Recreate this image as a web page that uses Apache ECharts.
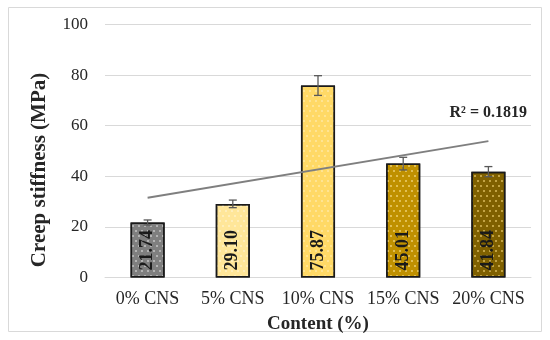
<!DOCTYPE html>
<html><head><meta charset="utf-8">
<script src="https://cdn.jsdelivr.net/npm/echarts@6/dist/echarts.min.js"></script>
<style>html,body{margin:0;padding:0;background:#fff}#c{width:550px;height:340px}</style>
</head><body><div id="c"></div>
<script>
var categories = ['0% CNS', '5% CNS', '10% CNS', '15% CNS', '20% CNS'];
var values = [21.74, 29.10, 75.87, 45.01, 41.84];
var errors = [1.0, 1.5, 3.9, 2.5, 2.0];
var colors = ['#7f7f7f', '#ffe699', '#ffd966', '#bf9000', '#7f6000'];
var dotColors = ['rgba(255,255,255,0.55)', 'rgba(255,255,255,0.45)', 'rgba(255,255,255,0.4)', 'rgba(255,235,160,0.7)', 'rgba(255,225,130,0.7)'];
var trend = [31.5, null, null, null, 53.9];
var yTicks = [0, 20, 40, 60, 80, 100];
var r2Text = 'R² = 0.1819';
var F = '"Liberation Serif","Times New Roman",serif';

var chart = echarts.init(document.getElementById('c'), null, {renderer: 'canvas'});
var barData = values.map(function (v, i) {
  return {
    value: v,
    itemStyle: {
      color: colors[i],
      decal: {symbol: 'circle', symbolSize: 1, dashArrayX: [[1.6, 3.4], [0, 2.5, 1.6, 0.9]], dashArrayY: [1.6, 2.6], color: dotColors[i], rotation: 0}
    }
  };
});
chart.setOption({
  animation: false,
  aria: {enabled: false},
  grid: {left: 105, right: 19, top: 24.5, bottom: 62.5},
  xAxis: {
    type: 'category', data: categories,
    axisLine: {lineStyle: {color: '#d9d9d9', width: 1}},
    axisTick: {show: false},
    axisLabel: {fontFamily: F, fontSize: 18, color: '#262626', margin: 13, interval: 0},
    name: 'Content (%)', nameLocation: 'middle', nameGap: 37,
    nameTextStyle: {fontFamily: F, fontSize: 19, fontWeight: 'bold', color: '#262626'}
  },
  yAxis: {
    type: 'value', min: yTicks[0], max: yTicks[yTicks.length - 1], interval: 20,
    axisLine: {show: false}, axisTick: {show: false},
    splitLine: {lineStyle: {color: '#d9d9d9', width: 1}},
    axisLabel: {fontFamily: F, fontSize: 17, color: '#262626', margin: 17}
  },
  graphic: [
    {type: 'rect', shape: {x: 8.5, y: 7.5, width: 533, height: 324}, style: {fill: null, stroke: '#d9d9d9', lineWidth: 1}, z: -1},
    {type: 'text', x: 40, y: 170, rotation: Math.PI / 2,
      style: {text: 'Creep stiffness (MPa)', font: 'bold 21px ' + F, fill: '#262626', align: 'center', verticalAlign: 'middle'}},
    {type: 'text', x: 527, y: 113,
      style: {text: r2Text, font: 'bold 16px ' + F, fill: '#262626', align: 'right', verticalAlign: 'middle'}}
  ],
  series: [
    {
      type: 'bar', data: barData, barWidth: '40%',
      itemStyle: {borderColor: '#1a1a1a', borderWidth: 1.5},
      label: {
        show: true, position: 'insideBottom', distance: 7, rotate: 90, align: 'left', verticalAlign: 'middle',
        fontFamily: F, fontSize: 18, fontWeight: 'bold', color: '#1a1a1a',
        formatter: function (p) { return p.value.toFixed(2); }
      },
      z: 2
    },
    {
      type: 'custom', z: 5,
      data: values.map(function (v, i) { return [i, v, errors[i]]; }),
      renderItem: function (params, api) {
        var i = api.value(0), v = api.value(1), e = api.value(2);
        var top = api.coord([i, v + e]), bot = api.coord([i, v - e]);
        var hw = 4;
        var st = {stroke: '#595959', lineWidth: 1.3};
        return {type: 'group', children: [
          {type: 'line', shape: {x1: top[0], y1: top[1], x2: bot[0], y2: bot[1]}, style: st},
          {type: 'line', shape: {x1: top[0] - hw, y1: top[1], x2: top[0] + hw, y2: top[1]}, style: st},
          {type: 'line', shape: {x1: bot[0] - hw, y1: bot[1], x2: bot[0] + hw, y2: bot[1]}, style: st}
        ]};
      }
    },
    {
      type: 'line', data: trend, connectNulls: true, symbol: 'none', z: 6,
      lineStyle: {color: '#7f7f7f', width: 2}
    }
  ]
});
</script></body></html>
